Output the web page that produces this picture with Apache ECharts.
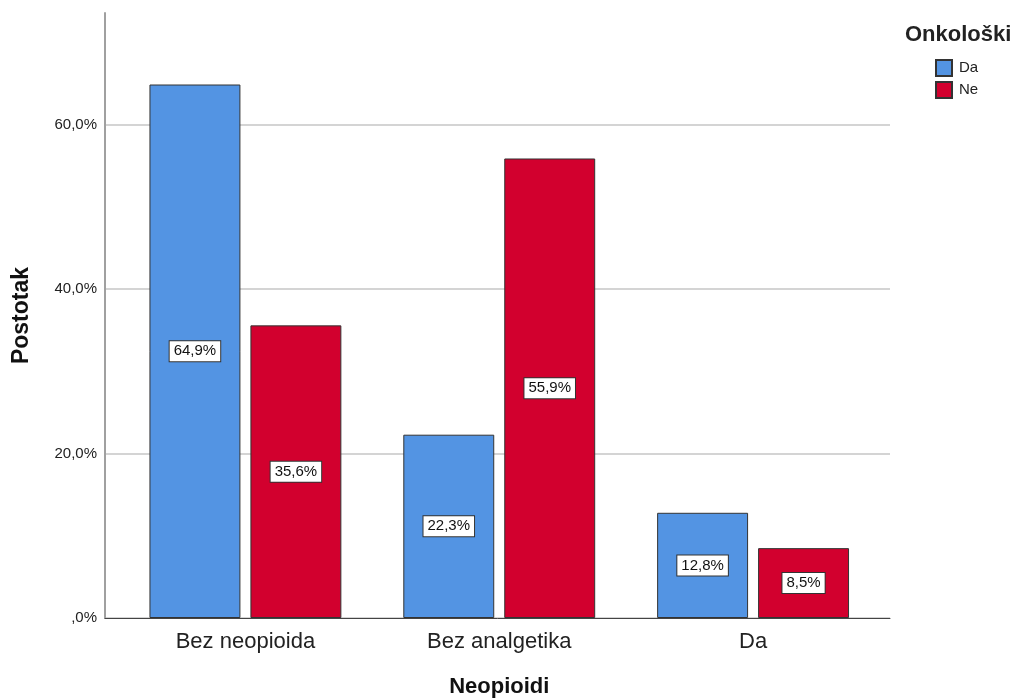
<!DOCTYPE html>
<html><head><meta charset="utf-8">
<script src="https://cdn.jsdelivr.net/npm/echarts@6/dist/echarts.min.js"></script>
<style>html,body{margin:0;padding:0;background:#fff}#c{width:1017px;height:700px}</style>
</head><body><div id="c"></div>
<script>
const categories = ['Bez neopioida', 'Bez analgetika', 'Da'];
const seriesNames = ['Da', 'Ne'];
const valuesDa = [64.9, 22.3, 12.8];
const valuesNe = [35.6, 55.9, 8.5];
const yTicks = [0, 20, 40, 60];
const legendTitle = 'Onkološki';
const xName = 'Neopioidi';
const yName = 'Postotak';

const font = 'Liberation Sans, Arial, sans-serif';
const Y_MAX = 73.6;
function tickFmt(v){ if (yTicks.indexOf(v) < 0) return ''; return v === 0 ? ',0%' : v + ',0%'; }
function valFmt(v){ return String(v).replace('.', ',') + '%'; }

const labelStyle = {
  show: true, position: 'inside', color: '#111', fontSize: 15, fontFamily: font,
  backgroundColor: '#fff', borderColor: '#333', borderWidth: 1, padding: [3, 4, 2, 4],
  formatter: p => valFmt(p.value)
};

const chart = echarts.init(document.getElementById('c'));
chart.setOption({
  animation: false,
  textStyle: { fontFamily: font },
  title: { text: legendTitle, left: 905, top: 24, padding: 0,
    textStyle: { fontSize: 22, fontWeight: 'bold', color: '#222', fontFamily: font } },
  legend: {
    orient: 'vertical', left: 935, top: 59, padding: 0, itemWidth: 16, itemHeight: 16, itemGap: 4,
    icon: 'rect',
    textStyle: { fontSize: 15, color: '#222', fontFamily: font, padding: [0,0,0,2] },
    data: seriesNames
  },
  grid: [
    { left: 105, right: 127, top: 13, bottom: 82, outerBoundsMode: 'none', containLabel: false },
    { left: 118.5, right: 137, top: 13, bottom: 82, outerBoundsMode: 'none', containLabel: false }
  ],
  xAxis: [
    { type: 'value', gridIndex: 0, min: 0, max: 1, show: true,
      axisLine: { show: true, onZero: false, lineStyle: { color: '#444', width: 1 } },
      axisTick: { show: false }, axisLabel: { show: false }, splitLine: { show: false } },
    { type: 'category', gridIndex: 1, data: categories,
      name: xName, nameLocation: 'middle', nameGap: 58,
      nameTextStyle: { fontSize: 22, fontWeight: 'bold', color: '#111' },
      axisLine: { show: false }, axisTick: { show: false },
      axisLabel: { fontSize: 22, color: '#222', margin: 13 } }
  ],
  yAxis: [
    { type: 'value', gridIndex: 0, min: 0, max: Y_MAX, interval: 20,
      name: yName, nameLocation: 'middle', nameGap: 72,
      nameTextStyle: { fontSize: 23, fontWeight: 'bold', color: '#111' },
      axisLine: { show: true, lineStyle: { color: '#a0a0a0', width: 2 } },
      axisTick: { show: false },
      axisLabel: { fontSize: 15, color: '#222', margin: 8, formatter: tickFmt, showMaxLabel: false },
      splitLine: { show: true, lineStyle: { color: ['#d4d4d4', '#d4d4d4', '#d4d4d4', '#d4d4d4', 'rgba(0,0,0,0)'], width: 2 } } },
    { type: 'value', gridIndex: 1, min: 0, max: Y_MAX, show: false, splitLine: { show: false } }
  ],
  series: [
    { name: seriesNames[0], type: 'bar', xAxisIndex: 1, yAxisIndex: 1, data: valuesDa,
      barGap: '11%', barCategoryGap: '24.4%',
      itemStyle: { color: '#5394e3', borderColor: '#333', borderWidth: 1 }, label: labelStyle },
    { name: seriesNames[1], type: 'bar', xAxisIndex: 1, yAxisIndex: 1, data: valuesNe,
      itemStyle: { color: '#d2002e', borderColor: '#333', borderWidth: 1 }, label: labelStyle }
  ]
});
</script></body></html>
